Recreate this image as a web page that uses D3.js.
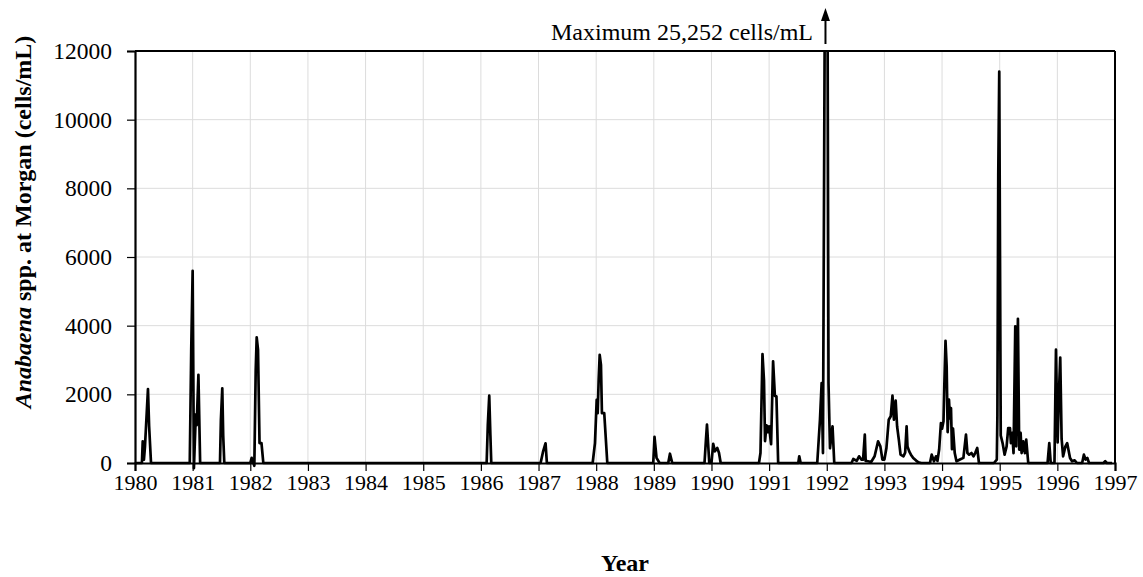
<!DOCTYPE html>
<html><head><meta charset="utf-8">
<script src="https://cdn.jsdelivr.net/npm/d3@7"></script>
<style>
body{margin:0;background:#fff;}
svg{display:block;}
svg text{font-family:"Liberation Serif","Times New Roman",serif !important;fill:#000;}
</style></head>
<body>
<script>
// Sampling dates (decimal years) and Anabaena counts (cells/mL)
const years = [1980.00,1980.12,1980.134,1980.155,1980.173,1980.225,1980.245,1980.278,
1980.95,1980.975,1981.0,1981.022,1981.055,1981.07,1981.1,1981.13,
1981.474,1981.49,1981.514,1981.53,1981.549,
1982.0,1982.024,1982.07,1982.094,1982.111,1982.134,1982.16,1982.194,1982.226,
1986.10,1986.12,1986.145,1986.165,1986.18,
1987.036,1987.08,1987.122,1987.145,
1987.939,1987.979,1988.009,1988.026,1988.043,1988.061,1988.083,1988.10,1988.14,1988.193,
1988.99,1989.012,1989.047,1989.1,1989.25,1989.28,1989.32,
1989.879,1989.905,1989.922,1989.962,1990.0,1990.03,1990.06,1990.1,1990.13,1990.16,
1990.824,1990.85,1990.885,1990.911,1990.929,1990.955,1990.98,1991.0,1991.034,1991.069,1991.1,1991.127,1991.157,
1991.506,1991.523,1991.547,
1991.835,1991.882,1991.911,1991.934,1991.995,1992.03,1992.056,1992.1,1992.13,
1992.43,1992.46,1992.52,1992.56,1992.6,1992.63,1992.66,1992.675,1992.715,1992.77,1992.83,1992.89,1992.93,1992.965,
1993.0,1993.035,1993.075,1993.11,1993.14,1993.165,1993.195,1993.22,1993.25,1993.28,1993.33,1993.36,1993.385,1993.4,
1993.43,1993.46,1993.5,1993.55,1993.59,1993.64,1993.79,1993.82,1993.86,1993.895,1993.92,1993.95,1993.98,
1994.0,1994.025,1994.04,1994.06,1994.08,1994.097,1994.12,1994.137,1994.155,1994.172,1994.19,1994.22,1994.25,1994.31,
1994.37,1994.415,1994.44,1994.47,1994.51,1994.545,1994.575,1994.61,1994.64,
1994.9,1994.95,1994.96,1994.975,1994.992,1995.018,1995.05,1995.085,1995.12,1995.148,1995.178,1995.195,1995.217,1995.24,
1995.27,1995.286,1995.316,1995.338,1995.363,1995.38,1995.408,1995.437,1995.46,1995.495,
1995.83,1995.86,1995.885,1995.95,1995.976,1996.005,1996.027,1996.05,1996.074,1996.1,1996.14,1996.17,1996.22,1996.255,
1996.3,1996.34,1996.43,1996.46,1996.49,1996.52,1996.55,1996.8,1996.83,1996.86,1996.95];
const cells = [0,0,630,100,480,2155,1070,0,
0,3250,5600,-150,1420,1100,2570,0,
0,1250,2175,800,0,
0,150,-80,2700,3660,3300,580,580,0,
0,1100,1960,800,0,
0,340,575,0,
0,580,1840,1450,2420,3150,2860,1450,1450,0,
0,760,150,0,0,270,0,
0,700,1120,0,0,560,340,440,300,0,
0,290,3175,2400,640,1100,900,1070,550,2960,1950,1940,0,
0,195,0,
0,1260,2330,290,25252,2330,430,1070,0,
0,117,60,195,100,100,825,60,50,30,195,630,485,100,
100,437,1260,1360,1960,1260,1815,1070,680,243,195,300,1070,485,
340,243,145,70,20,0,0,243,50,195,60,400,1165,
1000,1215,2300,3560,2800,900,1845,1300,1600,400,1000,290,50,100,
150,825,290,243,290,195,290,440,0,
0,100,1400,8400,11400,800,580,243,485,1020,1020,580,875,290,
3980,485,4200,390,875,290,630,290,680,0,
0,580,0,0,3300,600,2000,3070,700,195,485,580,145,50,
80,0,0,243,100,145,0,0,50,0,0];
const xTicks = [1980,1981,1982,1983,1984,1985,1986,1987,1988,1989,1990,1991,1992,1993,1994,1995,1996,1997];
const yTicks = [0,2000,4000,6000,8000,10000,12000];
const maxLabel = "Maximum 25,252 cells/mL";

const W = 1143, H = 577;
const m = {left:135, right:W-1115, top:51, bottom:H-463};
const svg = d3.select("body").append("svg").attr("width",W).attr("height",H);
const x = d3.scaleLinear().domain([1980,1997]).range([m.left, W-m.right]);
const y = d3.scaleLinear().domain([0,12000]).range([H-m.bottom, m.top]);

// grid
const g = svg.append("g");
g.selectAll(".vg").data(xTicks.slice(1,-1)).enter().append("line")
  .attr("x1",d=>x(d)).attr("x2",d=>x(d)).attr("y1",y(0)).attr("y2",y(12000))
  .attr("stroke","#dcdcdc").attr("stroke-width",1);
g.selectAll(".hg").data(yTicks.slice(1,-1)).enter().append("line")
  .attr("x1",x(1980)).attr("x2",x(1997)).attr("y1",d=>y(d)).attr("y2",d=>y(d))
  .attr("stroke","#dcdcdc").attr("stroke-width",1);

// clip
svg.append("clipPath").attr("id","clip").append("rect")
  .attr("x",x(1980)).attr("y",y(12000)).attr("width",x(1997)-x(1980)).attr("height",y(0)-y(12000)+10);

const data = years.map((t,i)=>[t,cells[i]]);
svg.append("path").datum(data).attr("clip-path","url(#clip)")
  .attr("d", d3.line().x(d=>x(d[0])).y(d=>y(d[1])))
  .attr("fill","none").attr("stroke","#000").attr("stroke-width",2.7).attr("stroke-linejoin","round");

// frame top/right
svg.append("line").attr("x1",x(1980)).attr("x2",x(1997)).attr("y1",y(12000)).attr("y2",y(12000)).attr("stroke","#000").attr("stroke-width",2);
svg.append("line").attr("x1",x(1997)).attr("x2",x(1997)).attr("y1",y(12000)).attr("y2",y(0)).attr("stroke","#000").attr("stroke-width",2);

// axes
const xa = svg.append("g").attr("transform",`translate(0,${y(0)})`)
  .call(d3.axisBottom(x).tickValues(xTicks).tickFormat(d3.format("d")).tickSize(8).tickPadding(3));
xa.selectAll("text").attr("font-size","22px");
const ya = svg.append("g").attr("transform",`translate(${x(1980)},0)`)
  .call(d3.axisLeft(y).tickValues(yTicks).tickFormat(d3.format("d")).tickSize(8).tickPadding(15));
ya.selectAll("text").attr("font-size","23.5px");
[xa,ya].forEach(a=>{a.select(".domain").attr("stroke","#000").attr("stroke-width",2.2);
  a.selectAll(".tick line").attr("stroke","#000").attr("stroke-width",1.2);});

// titles
svg.append("text").attr("x",(x(1980)+x(1997))/2).attr("y",571).attr("text-anchor","middle")
  .attr("font-size","24px").attr("font-weight","bold").text("Year");
const yt = svg.append("text").attr("transform",`translate(31,222) rotate(-90)`).attr("text-anchor","middle")
  .attr("font-size","24px").attr("font-weight","bold");
yt.append("tspan").attr("font-style","italic").text("Anabaena");
yt.append("tspan").text(" spp. at Morgan (cells/mL)");

// annotation
svg.append("text").attr("x",813).attr("y",40).attr("text-anchor","end").attr("font-size","24px").text(maxLabel);
const ax = x(years[cells.indexOf(d3.max(cells))]) - 1;
svg.append("line").attr("x1",ax).attr("x2",ax).attr("y1",44).attr("y2",18)
  .attr("stroke","#000").attr("stroke-width",2);
svg.append("path").attr("d",`M${ax-4.5},${21} L${ax},${8} L${ax+4.5},${21} Z`).attr("fill","#000");
</script>
</body></html>
